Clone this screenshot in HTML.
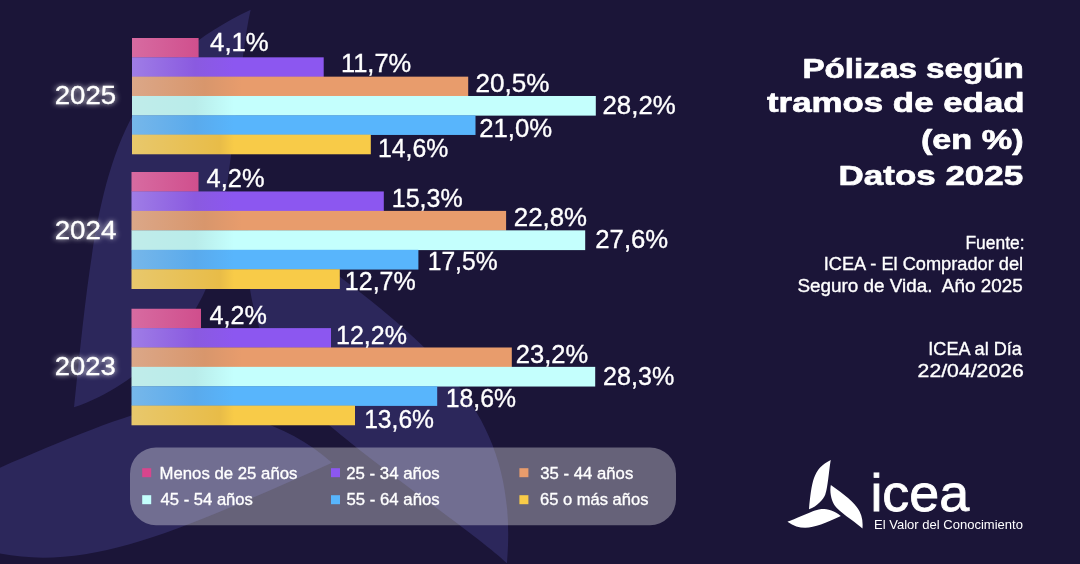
<!DOCTYPE html>
<html><head><meta charset="utf-8"><title>Pólizas según tramos de edad</title>
<style>
html,body{margin:0;padding:0;background:#1b1538;}
body{width:1080px;height:564px;overflow:hidden;}
svg{display:block;will-change:transform;}
svg text{font-family:"Liberation Sans",sans-serif;fill:#fff;}
</style></head><body>
<svg width="1080" height="564" viewBox="0 0 1080 564">
<defs>
<path id="blade" d="M31.7,-350.8 C-114.9,-281.8 -122.4,-167.9 -145,46.8 C-76.8,24.1 -28.1,-35.9 -13.6,-70.6 C9.2,-125.4 19.6,-301.1 31.7,-350.8 Z"/>
<g id="tri"><use href="#blade"/><use href="#blade" transform="rotate(120)"/><use href="#blade" transform="rotate(240)"/></g>
<linearGradient id="g_pink" gradientUnits="userSpaceOnUse" x1="132" y1="0" x2="234" y2="0"><stop offset="0" stop-color="#d76ba1"/><stop offset="0.66" stop-color="#d04f8d"/><stop offset="1" stop-color="#cf4a8a"/></linearGradient>
<linearGradient id="g_purple" gradientUnits="userSpaceOnUse" x1="132" y1="0" x2="234" y2="0"><stop offset="0" stop-color="#9f7de6"/><stop offset="0.62" stop-color="#8a5ae0"/><stop offset="1" stop-color="#8c57f0"/></linearGradient>
<linearGradient id="g_orange" gradientUnits="userSpaceOnUse" x1="132" y1="0" x2="242" y2="0"><stop offset="0" stop-color="#dba788"/><stop offset="0.66" stop-color="#d8966c"/><stop offset="1" stop-color="#e89c6c"/></linearGradient>
<linearGradient id="g_cyan" gradientUnits="userSpaceOnUse" x1="132" y1="0" x2="234" y2="0"><stop offset="0" stop-color="#c0ecea"/><stop offset="0.62" stop-color="#b9ecea"/><stop offset="1" stop-color="#c4fffd"/></linearGradient>
<linearGradient id="g_blue" gradientUnits="userSpaceOnUse" x1="132" y1="0" x2="234" y2="0"><stop offset="0" stop-color="#76b7ea"/><stop offset="0.62" stop-color="#5aaaec"/><stop offset="1" stop-color="#58b5fc"/></linearGradient>
<linearGradient id="g_yellow" gradientUnits="userSpaceOnUse" x1="132" y1="0" x2="234" y2="0"><stop offset="0" stop-color="#e8c86c"/><stop offset="0.86" stop-color="#e8bc48"/><stop offset="1" stop-color="#f8cb48"/></linearGradient>
<filter id="glow" x="-30%" y="-60%" width="160%" height="220%"><feGaussianBlur in="SourceGraphic" stdDeviation="2.8" result="b"/><feComponentTransfer in="b" result="b2"><feFuncA type="linear" slope="0.85"/></feComponentTransfer><feMerge><feMergeNode in="b2"/><feMergeNode in="SourceGraphic"/></feMerge></filter>
</defs>
<rect width="1080" height="564" fill="#1b1538"/>
<use href="#tri" fill="#2c275b" transform="translate(219,360.5) scale(1.0)"/>
<rect x="132" y="38.00" width="66.6" height="19.63" fill="url(#g_pink)"/>
<rect x="132" y="57.33" width="191.7" height="19.63" fill="url(#g_purple)"/>
<rect x="132" y="76.66" width="336.2" height="19.63" fill="url(#g_orange)"/>
<rect x="132" y="95.99" width="463.8" height="19.63" fill="url(#g_cyan)"/>
<rect x="132" y="115.32" width="343.5" height="19.63" fill="url(#g_blue)"/>
<rect x="132" y="134.65" width="238.8" height="19.63" fill="url(#g_yellow)"/>
<rect x="131.5" y="172.00" width="67.0" height="19.75" fill="url(#g_pink)"/>
<rect x="131.5" y="191.45" width="252.3" height="19.75" fill="url(#g_purple)"/>
<rect x="131.5" y="210.90" width="374.6" height="19.75" fill="url(#g_orange)"/>
<rect x="131.5" y="230.35" width="453.7" height="19.75" fill="url(#g_cyan)"/>
<rect x="131.5" y="249.80" width="286.9" height="19.75" fill="url(#g_blue)"/>
<rect x="131.5" y="269.25" width="208.3" height="19.75" fill="url(#g_yellow)"/>
<rect x="131.5" y="308.75" width="69.5" height="19.67" fill="url(#g_pink)"/>
<rect x="131.5" y="328.12" width="199.5" height="19.67" fill="url(#g_purple)"/>
<rect x="131.5" y="347.49" width="380.3" height="19.67" fill="url(#g_orange)"/>
<rect x="131.5" y="366.86" width="463.7" height="19.67" fill="url(#g_cyan)"/>
<rect x="131.5" y="386.23" width="305.7" height="19.67" fill="url(#g_blue)"/>
<rect x="131.5" y="405.60" width="223.5" height="19.67" fill="url(#g_yellow)"/>
<rect x="130" y="447.5" width="546" height="77.7" rx="26" ry="26" fill="#fff" fill-opacity="0.33"/>
<rect x="142.2" y="468.2" width="9" height="9" fill="#d8458d"/>
<rect x="331.0" y="468.2" width="9" height="9" fill="#8c57f0"/>
<rect x="519.4" y="468.2" width="9" height="9" fill="#e89c6c"/>
<rect x="142.2" y="495.2" width="9" height="9" fill="#c4fffd"/>
<rect x="331.0" y="495.2" width="9" height="9" fill="#58b5fc"/>
<rect x="519.4" y="495.2" width="9" height="9" fill="#f8cb48"/>
<text transform="translate(210.10,50.90) scale(1.0296,1)" font-size="25" stroke="#fff" stroke-width="0.35">4,1%</text>
<text transform="translate(340.91,71.65) scale(1.0191,1)" font-size="25" stroke="#fff" stroke-width="0.35">11,7%</text>
<text transform="translate(475.58,91.70) scale(1.0439,1)" font-size="25" stroke="#fff" stroke-width="0.35">20,5%</text>
<text transform="translate(602.49,113.80) scale(1.0338,1)" font-size="25" stroke="#fff" stroke-width="0.35">28,2%</text>
<text transform="translate(479.19,137.40) scale(1.0309,1)" font-size="25" stroke="#fff" stroke-width="0.35">21,0%</text>
<text transform="translate(377.95,156.65) scale(0.9916,1)" font-size="25" stroke="#fff" stroke-width="0.35">14,6%</text>
<text transform="translate(54.71,104.30) scale(1.0618,1)" font-size="26" stroke="#fff" stroke-width="0.35" filter="url(#glow)">2025</text>
<text transform="translate(206.60,187.40) scale(1.0162,1)" font-size="25" stroke="#fff" stroke-width="0.35">4,2%</text>
<text transform="translate(391.84,206.60) scale(0.9988,1)" font-size="25" stroke="#fff" stroke-width="0.35">15,3%</text>
<text transform="translate(513.79,225.50) scale(1.0338,1)" font-size="25" stroke="#fff" stroke-width="0.35">22,8%</text>
<text transform="translate(595.30,248.40) scale(1.0280,1)" font-size="25" stroke="#fff" stroke-width="0.35">27,6%</text>
<text transform="translate(427.76,270.00) scale(0.9843,1)" font-size="25" stroke="#fff" stroke-width="0.35">17,5%</text>
<text transform="translate(344.84,289.60) scale(1.0003,1)" font-size="25" stroke="#fff" stroke-width="0.35">12,7%</text>
<text transform="translate(54.70,239.30) scale(1.0666,1)" font-size="26" stroke="#fff" stroke-width="0.35" filter="url(#glow)">2024</text>
<text transform="translate(209.61,324.15) scale(1.0072,1)" font-size="25" stroke="#fff" stroke-width="0.35">4,2%</text>
<text transform="translate(336.04,343.60) scale(1.0003,1)" font-size="25" stroke="#fff" stroke-width="0.35">12,2%</text>
<text transform="translate(515.80,363.00) scale(1.0207,1)" font-size="25" stroke="#fff" stroke-width="0.35">23,2%</text>
<text transform="translate(603.12,385.10) scale(1.0048,1)" font-size="25" stroke="#fff" stroke-width="0.35">28,3%</text>
<text transform="translate(445.85,406.90) scale(0.9901,1)" font-size="25" stroke="#fff" stroke-width="0.35">18,6%</text>
<text transform="translate(364.16,428.40) scale(0.9857,1)" font-size="25" stroke="#fff" stroke-width="0.35">13,6%</text>
<text transform="translate(54.72,375.10) scale(1.0528,1)" font-size="26" stroke="#fff" stroke-width="0.35" filter="url(#glow)">2023</text>
<text transform="translate(802.42,77.50) scale(1.1659,1)" font-size="28.5" font-weight="bold" stroke="#fff" stroke-width="0.7" stroke-linejoin="round">Pólizas según</text>
<text transform="translate(767.00,112.40) scale(1.2230,1)" font-size="28.5" font-weight="bold" stroke="#fff" stroke-width="0.7" stroke-linejoin="round">tramos de edad</text>
<text transform="translate(920.89,149.30) scale(1.2017,1)" font-size="28.5" font-weight="bold" stroke="#fff" stroke-width="0.7" stroke-linejoin="round">(en %)</text>
<text transform="translate(838.61,185.30) scale(1.2269,1)" font-size="28.5" font-weight="bold" stroke="#fff" stroke-width="0.7" stroke-linejoin="round">Datos 2025</text>
<text transform="translate(965.44,249.20) scale(0.9688,1)" font-size="18" stroke="#fff" stroke-width="0.35">Fuente:</text>
<text transform="translate(823.78,270.30) scale(1.0119,1)" font-size="18" stroke="#fff" stroke-width="0.35">ICEA - El Comprador del</text>
<text transform="translate(797.41,291.70) scale(1.0487,1)" font-size="18" stroke="#fff" stroke-width="0.35">Seguro de Vida.  Año 2025</text>
<text transform="translate(928.29,355.00) scale(1.0060,1)" font-size="18" stroke="#fff" stroke-width="0.35">ICEA al Día</text>
<text transform="translate(917.60,377.30) scale(1.1795,1)" font-size="18" stroke="#fff" stroke-width="0.35">22/04/2026</text>
<text transform="translate(159.49,478.60) scale(0.9868,1)" font-size="17" stroke="#fff" stroke-width="0.35">Menos de 25 años</text>
<text transform="translate(346.21,478.60) scale(0.9894,1)" font-size="17" stroke="#fff" stroke-width="0.35">25 - 34 años</text>
<text transform="translate(540.28,478.60) scale(0.9845,1)" font-size="17" stroke="#fff" stroke-width="0.35">35 - 44 años</text>
<text transform="translate(160.54,505.40) scale(0.9785,1)" font-size="17" stroke="#fff" stroke-width="0.35">45 - 54 años</text>
<text transform="translate(346.48,505.40) scale(0.9866,1)" font-size="17" stroke="#fff" stroke-width="0.35">55 - 64 años</text>
<text transform="translate(540.02,505.40) scale(0.9729,1)" font-size="17" stroke="#fff" stroke-width="0.35">65 o más años</text>
<text transform="translate(870.38,510.50) scale(1.0455,1)" font-size="51.5" stroke="#fff" stroke-width="0.8">icea</text>
<text transform="translate(873.98,528.75) scale(0.9587,1)" font-size="13.6">El Valor del Conocimiento</text>
<use href="#tri" fill="#fff" transform="translate(826.9,503.4) scale(0.1235)"/>
</svg>
</body></html>
